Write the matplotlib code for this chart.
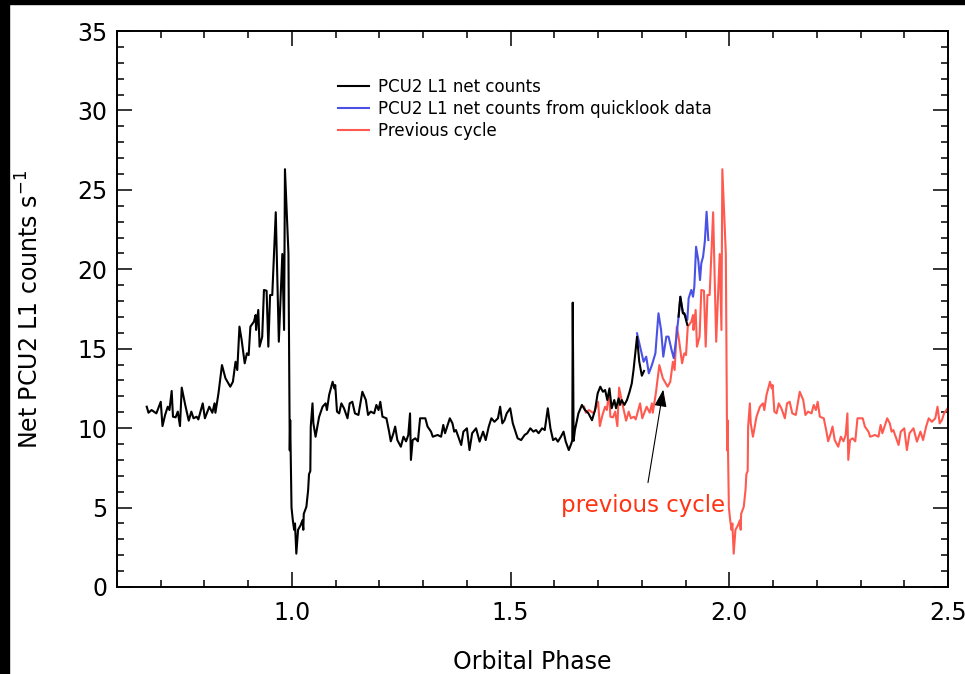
import numpy as np
import matplotlib
matplotlib.use("Agg")
import matplotlib.pyplot as plt
from matplotlib.patches import Rectangle
from matplotlib.ticker import MultipleLocator, FormatStrFormatter

# PCU2 L1 net counts (black)
phase = [0.668, 0.672, 0.679, 0.690, 0.700, 0.704, 0.710, 0.716, 0.720, 0.725,
         0.728, 0.734, 0.739, 0.744, 0.748, 0.756, 0.764, 0.770, 0.775, 0.782,
         0.786, 0.796, 0.801, 0.811, 0.818, 0.823, 0.825, 0.832, 0.840, 0.848,
         0.859, 0.865, 0.871, 0.875, 0.880, 0.885, 0.892, 0.897, 0.901, 0.905,
         0.913, 0.917, 0.918, 0.923, 0.926, 0.932, 0.936, 0.942, 0.946, 0.950,
         0.955, 0.963, 0.970, 0.978, 0.982, 0.984, 0.992, 0.995, 0.996, 0.997,
         0.999, 1.002, 1.005, 1.007, 1.010, 1.014, 1.020, 1.024, 1.026, 1.027,
         1.033, 1.037, 1.039, 1.042, 1.043, 1.047, 1.049, 1.054, 1.062, 1.070,
         1.077, 1.080, 1.085, 1.089, 1.093, 1.097, 1.099, 1.103, 1.108, 1.113,
         1.119, 1.127, 1.132, 1.138, 1.144, 1.152, 1.161, 1.169, 1.174, 1.180,
         1.188, 1.193, 1.198, 1.202, 1.207, 1.216, 1.222, 1.226, 1.232, 1.236,
         1.241, 1.249, 1.255, 1.261, 1.266, 1.270, 1.272, 1.276, 1.282, 1.288,
         1.293, 1.305, 1.310, 1.318, 1.322, 1.333, 1.341, 1.346, 1.350, 1.356,
         1.361, 1.367, 1.371, 1.375, 1.379, 1.387, 1.392, 1.400, 1.406, 1.412,
         1.421, 1.429, 1.437, 1.443, 1.450, 1.456, 1.463, 1.471, 1.476, 1.481,
         1.486, 1.491, 1.499, 1.505, 1.510, 1.516, 1.524, 1.532, 1.538, 1.545,
         1.552, 1.558, 1.564, 1.572, 1.578, 1.585, 1.591, 1.597, 1.603, 1.608,
         1.615, 1.621, 1.626, 1.633, 1.639, 1.641, 1.642, 1.644, 1.647, 1.655,
         1.663, 1.670, 1.678, 1.686, 1.693, 1.699, 1.705, 1.711, 1.716, 1.721,
         1.726, 1.731, 1.737, 1.741, 1.747, 1.750, 1.754, 1.760, 1.766, 1.772,
         1.777, 1.781, 1.785, 1.789, 1.794, 1.800, 1.805,
         np.nan, 1.884, 1.888, 1.894, 1.897, 1.904]
counts = [11.35, 10.97, 11.14, 10.93, 11.66, 10.13, 10.83, 11.35, 11.14, 12.34,
          10.72, 10.68, 11.04, 10.13, 12.55, 11.46, 10.47, 11.04, 10.62, 10.72,
          10.55, 11.56, 10.62, 11.35, 10.97, 11.56, 10.97, 12.19, 13.97, 13.14,
          12.61, 12.92, 14.18, 13.66, 16.39, 15.55, 14.08, 14.71, 14.60, 16.39,
          16.70, 17.12, 16.18, 17.44, 15.13, 15.76, 18.70, 18.65, 15.13, 18.38,
          18.38, 23.59, 15.44, 20.96, 16.18, 26.30, 21.00, 8.60, 10.50, 8.70,
          5.00, 4.20, 3.60, 4.00, 2.10, 3.60, 3.90, 4.20, 3.60, 4.60,
          5.05, 6.10, 7.10, 7.30, 10.10, 11.56, 10.30, 9.46, 10.70, 11.35,
          11.56, 11.14, 12.09, 12.50, 12.92, 12.50, 12.71, 11.04, 10.93, 11.56,
          11.25, 10.62, 11.56, 11.66, 10.93, 10.83, 12.29, 11.77, 10.83, 11.04,
          10.93, 11.46, 11.14, 11.66, 10.72, 10.62, 9.80, 9.17, 9.68, 10.10,
          9.25, 8.83, 9.46, 9.17, 9.57, 10.93, 8.00, 9.25, 9.36, 9.17,
          10.62, 10.62, 10.10, 9.78, 9.46, 9.57, 9.46, 10.20, 9.68, 10.20,
          10.62, 10.30, 9.78, 9.88, 9.57, 8.94, 9.78, 9.99, 8.62, 9.68,
          9.99, 9.15, 9.78, 9.25, 10.10, 10.62, 10.40, 10.62, 11.35, 10.30,
          10.50, 10.93, 11.25, 10.30, 9.88, 9.36, 9.25, 9.57, 9.68, 9.99,
          9.78, 9.88, 9.68, 9.99, 9.88, 11.25, 9.99, 9.25, 9.36, 9.15,
          9.46, 9.78, 9.15, 8.62, 9.05, 9.25, 17.90, 9.20, 9.88, 10.93,
          11.46, 11.14, 10.93, 10.50, 11.14, 12.19, 12.61, 12.29, 12.40, 11.77,
          12.50, 11.25, 11.77, 11.25, 11.88, 11.46, 11.77, 11.46, 11.77, 12.29,
          12.82, 13.66, 14.71, 15.76, 14.20, 13.30, 13.60,
          np.nan, 17.02, 18.27, 17.23, 17.23, 16.50]

# net counts from quicklook data (blue)
ql_phase = [1.789, 1.796, 1.804, 1.810, 1.816, 1.823, 1.831, 1.838, 1.844, 1.849,
            1.856, 1.861, 1.868, 1.873, 1.879, 1.884, 1.888, 1.894, 1.897, 1.904,
            1.907, 1.913, 1.917, 1.920, 1.924, 1.929, 1.933, 1.936, 1.940, 1.944,
            1.948, 1.952]
ql_counts = [15.97, 15.13, 14.18, 14.50, 13.45, 13.97, 14.71, 17.23, 16.18, 14.50,
             15.76, 15.76, 14.92, 14.40, 15.76, 17.02, 18.27, 17.23, 17.23, 16.81,
             18.17, 18.70, 18.27, 18.90, 21.42, 20.58, 19.32, 20.38, 20.79, 21.74,
             23.62, 21.84]

# previous cycle = the black light curve one orbit earlier (phase <= 1.5, drawn at +1)
n_prev = 153
prev_phase = np.array(phase[:n_prev]) + 1.0
prev_counts = counts[:n_prev]

fig = plt.figure(figsize=(9.65, 6.74), dpi=100)
ax = fig.add_axes([117 / 965, 1 - 587 / 674, 831 / 965, 556 / 674])

ax.plot(prev_phase, prev_counts, color='#ff5a50', lw=1.5, label='Previous cycle', zorder=2)
ax.plot(phase, counts, color='black', lw=1.5, label='PCU2 L1 net counts', zorder=3)
ax.plot(ql_phase, ql_counts, color='#4a52e6', lw=1.5,
        label='PCU2 L1 net counts from quicklook data', zorder=2.5)

ax.set_xlim(0.6, 2.5)
ax.set_ylim(0, 35)
ax.xaxis.set_major_locator(MultipleLocator(0.5))
ax.xaxis.set_minor_locator(MultipleLocator(0.1))
ax.xaxis.set_major_formatter(FormatStrFormatter('%.1f'))
ax.yaxis.set_major_locator(MultipleLocator(5))
ax.yaxis.set_minor_locator(MultipleLocator(1))
ax.tick_params(which='both', direction='in', top=True, right=True, width=1.1)
ax.tick_params(which='major', length=11, labelsize=17, pad=7)
ax.tick_params(axis='x', which='major', pad=10)
ax.tick_params(which='minor', length=5)
for s in ax.spines.values():
    s.set_linewidth(1.4)

ax.set_xlabel('Orbital Phase', fontsize=17)
ax.xaxis.set_label_coords(0.5, -0.113)
ax.set_ylabel('Net PCU2 L1 counts s$^{-1}$', fontsize=17)
ax.yaxis.set_label_coords(-0.088, 0.5)

# legend in the original order
h, l = ax.get_legend_handles_labels()
order = [1, 2, 0]
ax.legend([h[i] for i in order], [l[i] for i in order], frameon=False, fontsize=12,
          loc='upper left', bbox_to_anchor=(338 / 965, 1 - 78 / 674),
          bbox_transform=fig.transFigure, borderpad=0, borderaxespad=0,
          handlelength=1.85, handletextpad=0.55, labelspacing=0.23)

ax.annotate('', xy=(1.85, 12.6), xytext=(1.813, 6.4),
            arrowprops=dict(arrowstyle='-|>,head_length=0.7,head_width=0.25',
                            color='black', lw=0.8, mutation_scale=15))
ax.text(1.615, 4.72, 'previous cycle', color='#ff3414', fontsize=16.5,
        ha='left', va='baseline')

# black frame strips at the top and left edge of the picture
fig.add_artist(Rectangle((0, 0), 9 / 965, 1, transform=fig.transFigure,
                         color='black', zorder=10))
fig.add_artist(Rectangle((0, 1 - 4 / 674), 1, 4 / 674, transform=fig.transFigure,
                         color='black', zorder=10))

fig.savefig('out.png', dpi=100)
